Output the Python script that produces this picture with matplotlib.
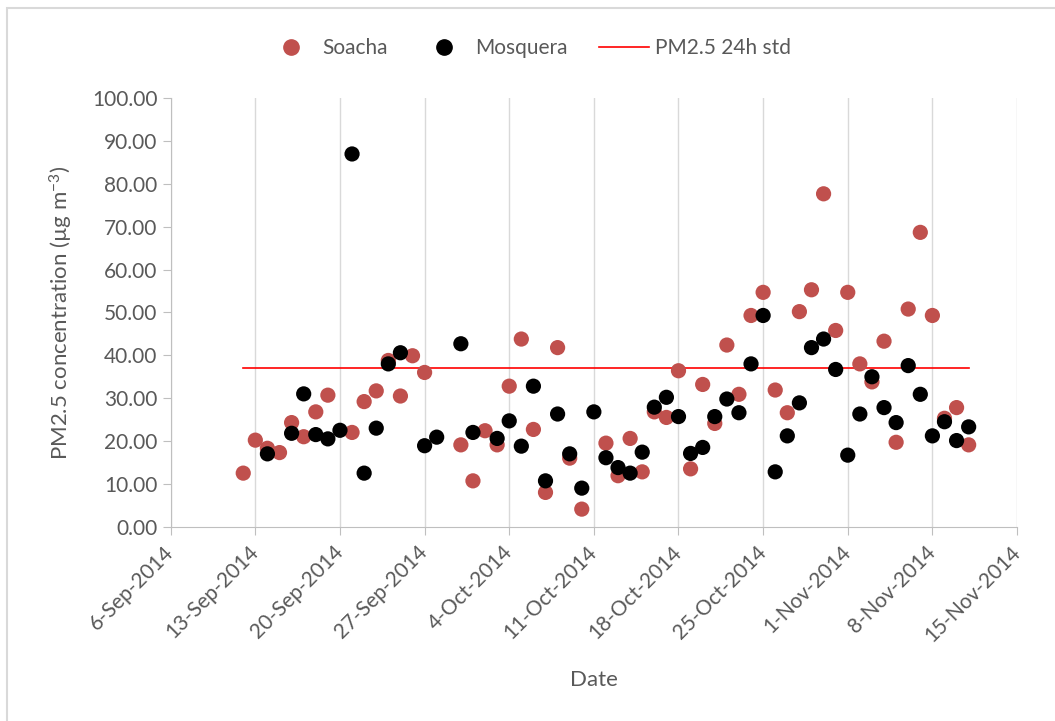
import numpy as np
import matplotlib
matplotlib.use('Agg')
import matplotlib.pyplot as plt
import matplotlib.dates as mdates
from matplotlib.lines import Line2D
from matplotlib.patches import Rectangle
import datetime as dt

plt.rcParams['font.family'] = ['Lato', 'DejaVu Sans']
plt.rcParams['mathtext.fontset'] = 'custom'
plt.rcParams['mathtext.rm'] = 'Lato'
plt.rcParams['mathtext.it'] = 'Lato'

# daily samples, 12-Sep-2014 .. 11-Nov-2014 (nan = no sample)
start = dt.date(2014, 9, 12)
soacha = [12.5, 20.2, 18.3, 17.3, 24.3, 21.0, 26.8, 30.7, np.nan, 22.0,
          29.2, 31.7, 38.8, 30.5, 39.9, 36.0, np.nan, np.nan, 19.1, 10.7,
          22.4, 19.1, 32.8, 43.8, 22.7, 8.0, 41.8, 16.0, 4.1, np.nan,
          19.5, 11.9, 20.6, 12.8, 26.8, 25.5, 36.4, 13.5, 33.2, 24.1,
          42.4, 30.9, 49.3, 54.7, 31.9, 26.6, 50.2, 55.3, 77.7, 45.8,
          54.7, 38.0, 33.8, 43.3, 19.7, 50.8, 68.7, 49.3, 25.3, 27.8,
          19.1]
mosquera = [np.nan, np.nan, 17.0, np.nan, 21.8, 31.0, 21.5, 20.5, 22.5, 87.0,
            12.5, 23.0, 38.0, 40.6, np.nan, 18.9, 20.9, np.nan, 42.7, 22.0,
            np.nan, 20.6, 24.7, 18.8, 32.8, 10.7, 26.3, 17.0, 9.0, 26.8,
            16.1, 13.8, 12.5, 17.4, 27.9, 30.2, 25.7, 17.1, 18.5, 25.7,
            29.8, 26.6, 38.0, 49.3, 12.8, 21.2, 28.9, 41.8, 43.8, 36.7,
            16.7, 26.3, 35.0, 27.8, 24.3, 37.6, 30.9, 21.2, 24.5, 20.1,
            23.3]
std_24h = 37.0
dates = [start + dt.timedelta(days=i) for i in range(len(soacha))]

grey_txt = '#595959'
red_pt = '#C0504D'

fig = plt.figure(figsize=(10.55, 7.21), dpi=100)
ax = fig.add_axes([0.1618, 0.2695, 0.8022, 0.5942])

ax.plot(dates, [std_24h] * len(dates), color='#FF0000', lw=1.2, zorder=2)
ax.scatter(dates, soacha, s=120, color=red_pt, edgecolors='none', zorder=3)
ax.scatter(dates, mosquera, s=120, color='black', edgecolors='none', zorder=4)

ax.set_xlim(mdates.date2num(dt.date(2014, 9, 6)), mdates.date2num(dt.date(2014, 11, 15)))
ax.set_ylim(0, 100)
ax.set_xticks([mdates.date2num(dt.date(2014, 9, 6) + dt.timedelta(days=7 * k)) for k in range(11)])
ax.xaxis.set_major_formatter(plt.FuncFormatter(
    lambda v, p: mdates.num2date(v).strftime('%d-%b-%Y').lstrip('0')))
ax.set_yticks(np.arange(0, 101, 10))
ax.yaxis.set_major_formatter(plt.FuncFormatter(lambda v, p: '%.2f' % v))

ax.grid(axis='x', color='#D9D9D9', lw=1)
ax.set_axisbelow(True)
for s in ['top', 'right']:
    ax.spines[s].set_visible(False)
for s in ['left', 'bottom']:
    ax.spines[s].set_color('#BFBFBF')
ax.tick_params(axis='both', colors='#BFBFBF', labelcolor=grey_txt, labelsize=15,
               length=6, direction='out')
ax.tick_params(axis='x', pad=10)

for lab in ax.get_xticklabels():
    lab.set_rotation(45)
    lab.set_ha('right')
    lab.set_va('center')
    lab.set_rotation_mode('anchor')

ax.set_xlabel('Date', fontsize=16, color=grey_txt, labelpad=18)
ax.set_ylabel('PM2.5 concentration (µg m$^{-3}$)', fontsize=16, color=grey_txt, labelpad=12)

handles = [Line2D([], [], ls='none', marker='o', ms=11, color=red_pt),
           Line2D([], [], ls='none', marker='o', ms=11, color='black'),
           Line2D([], [], color='#FF0000', lw=1.2)]
leg = fig.legend(handles, ['Soacha', 'Mosquera', 'PM2.5 24h std'], loc='center',
                 bbox_to_anchor=(0.501, 0.933), ncol=3, frameon=False, fontsize=15,
                 handlelength=2.4, handletextpad=0.3, columnspacing=1.5)
for t in leg.get_texts():
    t.set_color(grey_txt)

fig.patches.append(Rectangle((7 / 1055, -0.05), 1.2, 1 - 8 / 721 + 0.05,
                             transform=fig.transFigure, fill=False,
                             edgecolor='#D9D9D9', lw=1.5))

fig.savefig('out.png', dpi=100)
